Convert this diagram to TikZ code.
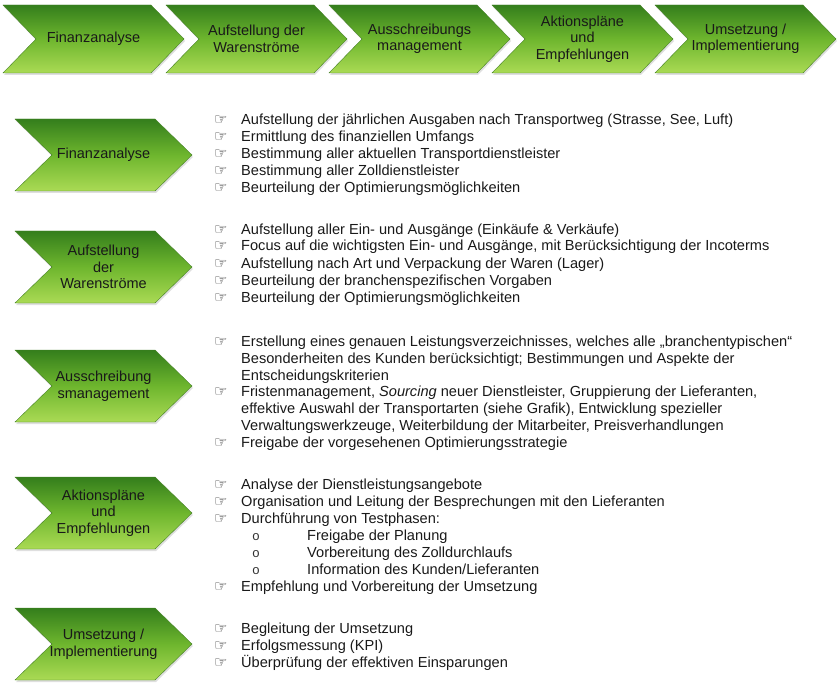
\documentclass[tikz,border=0pt]{standalone}
\usepackage{fontspec}
\setmainfont{Liberation Sans}
\setmonofont{Liberation Mono}
\newfontfamily\symfont{DejaVu Sans}
\usetikzlibrary{shadows}

\definecolor{chevtop}{RGB}{52,126,28}
\definecolor{chevmid}{RGB}{110,182,46}
\definecolor{chevbot}{RGB}{170,218,84}
\definecolor{chevline}{RGB}{70,130,38}

\tikzset{
  chevron/.style={top color=chevtop, bottom color=chevbot, middle color=chevmid,
    draw=chevline, line width=0.4pt,
    drop shadow={opacity=0.25, shadow xshift=1pt, shadow yshift=-2pt}},
  chevtext/.style={align=center, inner sep=0pt, text=black!90,
    font=\fontsize{14.5}{16.5}\selectfont},
  listline/.style={anchor=base west, inner sep=0pt, text=black!90,
    font=\fontsize{14.6}{17}\selectfont},
  hand/.style={anchor=base west, inner sep=0pt, text=black!85,
    font=\symfont\fontsize{15}{17}\selectfont},
  subdot/.style={anchor=base west, inner sep=0pt, text=black!80,
    font=\ttfamily\fontsize{13}{17}\selectfont}
}

% name, left x, centre y, top width, notch depth, half height, text
\newcommand{\chev}[7]{%
  \path[chevron] (#2,#3-#6) -- (#2+#4,#3-#6) -- (#2+#4+#5,#3)
    -- (#2+#4,#3+#6) -- (#2,#3+#6) -- (#2+#5,#3) -- cycle;
  \node[chevtext] (#1) at (#2+#4/2+#5/2,#3) {#7};
}

\begin{document}
\begin{tikzpicture}[x=1pt,y=-1pt]
  \useasboundingbox (0,0) rectangle (838,687);
  % process chain on top
  \chev{fa}{3}{39}{148}{33}{34}{Finanzanalyse}
  \chev{ws}{166}{39}{148}{33}{34}{Aufstellung der\\Warenströme}
  \chev{am}{329}{39}{148}{33}{34}{Ausschreibungs\\management}
  \chev{ap}{492}{39}{148}{33}{34}{Aktionspläne\\und\\Empfehlungen}
  \chev{ui}{655}{39}{148}{33}{34}{Umsetzung /\\Implementierung}
  % chevrons on the left
  \chev{lfa}{15}{155}{140}{37}{36}{Finanzanalyse}
  \chev{lws}{15}{267}{140}{37}{36}{Aufstellung\\der\\Warenströme}
  \chev{lam}{15}{386}{140}{37}{36}{Ausschreibung\\smanagement}
  \chev{lap}{15}{513}{140}{37}{36}{Aktionspläne\\und\\Empfehlungen}
  \chev{lui}{15}{644}{140}{37}{36}{Umsetzung /\\Implementierung}
  % items with a hand
  \foreach \n/\y/\t in {
      a1/125/{Aufstellung der jährlichen Ausgaben nach Transportweg (Strasse, See, Luft)},
      a2/142/{Ermittlung des finanziellen Umfangs},
      a3/159/{Bestimmung aller aktuellen Transportdienstleister},
      a4/176/{Bestimmung aller Zolldienstleister},
      a5/193/{Beurteilung der Optimierungsmöglichkeiten},
      b1/234/{Aufstellung aller Ein- und Ausgänge (Einkäufe \& Verkäufe)},
      b2/251/{Focus auf die wichtigsten Ein- und Ausgänge, mit Berücksichtigung der Incoterms},
      b3/268/{Aufstellung nach Art und Verpackung der Waren (Lager)},
      b4/285/{Beurteilung der branchenspezifischen Vorgaben},
      b5/302/{Beurteilung der Optimierungsmöglichkeiten},
      c1/346/{Erstellung eines genauen Leistungsverzeichnisses, welches alle „branchentypischen“},
      c2/396/{Fristenmanagement, \emph{Sourcing} neuer Dienstleister, Gruppierung der Lieferanten,},
      c3/447/{Freigabe der vorgesehenen Optimierungsstrategie},
      d1/489/{Analyse der Dienstleistungsangebote},
      d2/506/{Organisation und Leitung der Besprechungen mit den Lieferanten},
      d3/523/{Durchführung von Testphasen:},
      d4/591/{Empfehlung und Vorbereitung der Umsetzung},
      e1/633/{Begleitung der Umsetzung},
      e2/650/{Erfolgsmessung (KPI)},
      e3/667/{Überprüfung der effektiven Einsparungen}}{
    \node[hand] (h\n) at (214,\y) {☞};
    \node[listline] (t\n) at (241,\y) {\t};
  }
  % continued lines
  \foreach \n/\y/\t in {
      c1b/363/{Besonderheiten des Kunden berücksichtigt; Bestimmungen und Aspekte der},
      c1c/380/{Entscheidungskriterien},
      c2b/413/{effektive Auswahl der Transportarten (siehe Grafik), Entwicklung spezieller},
      c2c/430/{Verwaltungswerkzeuge, Weiterbildung der Mitarbeiter, Preisverhandlungen}}{
    \node[listline] (t\n) at (241,\y) {\t};
  }
  % sub items
  \foreach \n/\y/\t in {
      s1/540/{Freigabe der Planung},
      s2/557/{Vorbereitung des Zolldurchlaufs},
      s3/574/{Information des Kunden/Lieferanten}}{
    \node[subdot] (o\n) at (252,\y) {o};
    \node[listline] (t\n) at (307,\y) {\t};
  }
\end{tikzpicture}
\end{document}
